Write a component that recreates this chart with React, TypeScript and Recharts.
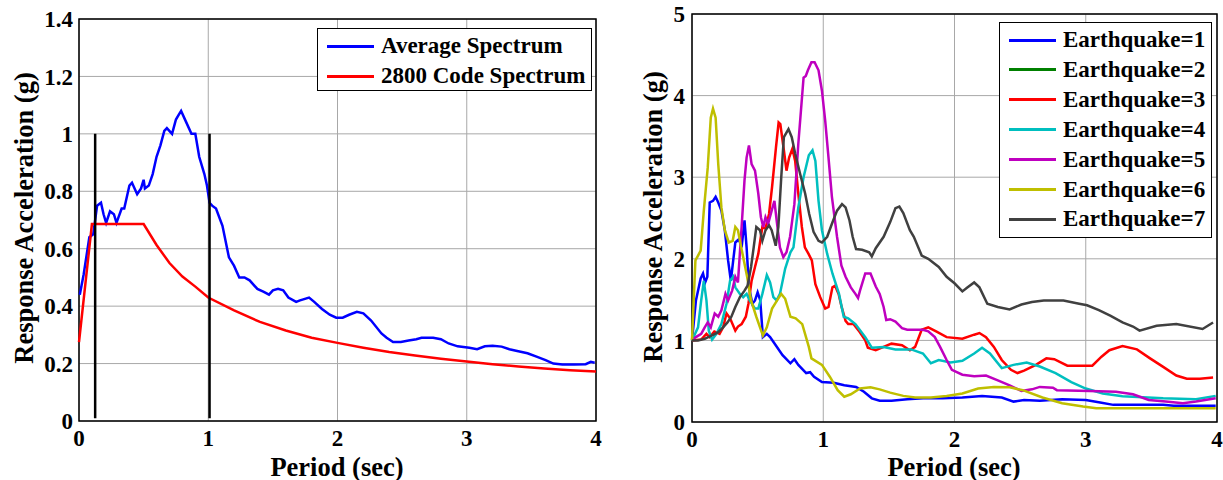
import { LineChart, Line, XAxis, YAxis, CartesianGrid, ReferenceArea, ReferenceLine } from "recharts";

const FONT = '"Liberation Serif", "Times New Roman", serif';

// ---- left panel: average vs code spectrum ----
const leftXTicks = [0, 1, 2, 3, 4];
const leftYTicks = [0, 0.2, 0.4, 0.6, 0.8, 1, 1.2, 1.4];

const averageSpectrum: [number, number][] = [
  [0.006, 0.44], [0.036, 0.51], [0.08, 0.64], [0.11, 0.65], [0.14, 0.75], [0.17, 0.76], [0.19, 0.72],
  [0.21, 0.69], [0.24, 0.73], [0.27, 0.72], [0.29, 0.69], [0.33, 0.74], [0.35, 0.74], [0.39, 0.82],
  [0.41, 0.83], [0.45, 0.79], [0.48, 0.81], [0.5, 0.84], [0.51, 0.81], [0.54, 0.82], [0.57, 0.86],
  [0.6, 0.92], [0.63, 0.96], [0.66, 1.01], [0.68, 1.02], [0.72, 1.0], [0.75, 1.05], [0.77, 1.065],
  [0.79, 1.08], [0.83, 1.04], [0.87, 1.0], [0.9, 1.0], [0.93, 0.92], [0.97, 0.86], [0.99, 0.82],
  [1.01, 0.76], [1.03, 0.75], [1.06, 0.74], [1.11, 0.68], [1.16, 0.57], [1.2, 0.54], [1.24, 0.5],
  [1.28, 0.5], [1.32, 0.49], [1.36, 0.47], [1.38, 0.46], [1.43, 0.45], [1.47, 0.44], [1.5, 0.455],
  [1.54, 0.46], [1.58, 0.455], [1.62, 0.43], [1.68, 0.415], [1.71, 0.42], [1.78, 0.43], [1.82, 0.415],
  [1.88, 0.39], [1.94, 0.37], [1.99, 0.36], [2.04, 0.36], [2.09, 0.37], [2.15, 0.38], [2.2, 0.375],
  [2.26, 0.35], [2.34, 0.305], [2.38, 0.29], [2.43, 0.275], [2.49, 0.275], [2.55, 0.28], [2.61, 0.285],
  [2.65, 0.29], [2.74, 0.29], [2.8, 0.285], [2.86, 0.27], [2.93, 0.26], [3.02, 0.255], [3.08, 0.25],
  [3.14, 0.26], [3.2, 0.262], [3.27, 0.259], [3.33, 0.25], [3.39, 0.244], [3.47, 0.236], [3.54, 0.224],
  [3.61, 0.212], [3.67, 0.2], [3.74, 0.197], [3.83, 0.197], [3.92, 0.198], [3.96, 0.206], [3.99, 0.203],
];

const codeSpectrum: [number, number][] = [
  [0, 0.275], [0.1, 0.686], [0.5, 0.686], [0.6, 0.613], [0.7, 0.55], [0.8, 0.503], [0.9, 0.468],
  [1.0, 0.43], [1.2, 0.385], [1.4, 0.345], [1.6, 0.315], [1.8, 0.29], [2.0, 0.272], [2.2, 0.255],
  [2.4, 0.24], [2.6, 0.228], [2.8, 0.217], [3.0, 0.207], [3.2, 0.198], [3.4, 0.19], [3.6, 0.183],
  [3.8, 0.177], [4.0, 0.172],
];

// the two black marker lines (period, from, to)
const markerLines: [number, number, number][] = [
  [0.125, 0.01, 1.0],
  [1.01, 0.01, 1.0],
];

// ---- right panel: individual records ----
const rightXTicks = [0, 1, 2, 3, 4];
const rightYTicks = [0, 1, 2, 3, 4, 5];

const eq1: [number, number][] = [
  [0, 1], [0.03, 1.49], [0.066, 1.76], [0.084, 1.82], [0.1, 1.71], [0.117, 1.78], [0.135, 2.69],
  [0.16, 2.71], [0.18, 2.76], [0.2, 2.69], [0.224, 2.59], [0.25, 2.35], [0.275, 1.98], [0.296, 1.73],
  [0.314, 1.98], [0.33, 2.2], [0.357, 2.24], [0.378, 2.14], [0.4, 2.47], [0.416, 2.14], [0.434, 1.65],
  [0.46, 1.45], [0.48, 1.49], [0.5, 1.59], [0.52, 1.49], [0.54, 1.04], [0.57, 1.08], [0.595, 1.04],
  [0.63, 0.96], [0.69, 0.82], [0.75, 0.72], [0.78, 0.77], [0.81, 0.7], [0.87, 0.6], [0.9, 0.61],
  [0.93, 0.555], [0.99, 0.49], [1.08, 0.48], [1.16, 0.45], [1.25, 0.43], [1.31, 0.37], [1.37, 0.29],
  [1.43, 0.26], [1.52, 0.26], [1.64, 0.28], [1.76, 0.29], [1.91, 0.29], [2.06, 0.3], [2.21, 0.32],
  [2.36, 0.3], [2.45, 0.25], [2.53, 0.27], [2.65, 0.26], [2.82, 0.28], [3.0, 0.27], [3.11, 0.24],
  [3.21, 0.21], [3.59, 0.21], [3.67, 0.2], [3.99, 0.2],
];

// record 2 is hidden under the others in the source figure
const eq2: [number, number][] = [];

const eq3: [number, number][] = [
  [0, 1], [0.07, 1.01], [0.11, 1.08], [0.135, 1.04], [0.17, 1.11], [0.21, 1.08], [0.237, 1.16],
  [0.263, 1.33], [0.29, 1.27], [0.33, 1.12], [0.35, 1.17], [0.378, 1.2], [0.41, 1.29], [0.43, 1.45],
  [0.454, 1.73], [0.48, 1.9], [0.505, 2.06], [0.536, 2.39], [0.56, 2.37], [0.587, 2.55], [0.61, 2.88],
  [0.64, 3.37], [0.66, 3.67], [0.673, 3.65], [0.7, 3.33], [0.72, 3.08], [0.74, 3.24], [0.765, 3.35],
  [0.786, 3.2], [0.81, 2.8], [0.837, 2.39], [0.86, 2.14], [0.888, 2.06], [0.913, 1.98], [0.94, 1.69],
  [0.977, 1.53], [1.015, 1.39], [1.04, 1.41], [1.07, 1.65], [1.09, 1.67], [1.117, 1.57], [1.14, 1.41],
  [1.17, 1.24], [1.19, 1.2], [1.23, 1.2], [1.27, 1.12], [1.32, 1.0], [1.34, 0.91], [1.4, 0.88],
  [1.46, 0.92], [1.52, 0.96], [1.6, 0.94], [1.66, 0.88], [1.7, 0.92], [1.75, 1.13], [1.8, 1.16],
  [1.86, 1.11], [1.94, 1.04], [2.06, 1.02], [2.15, 1.07], [2.19, 1.09], [2.24, 1.04], [2.3, 0.92],
  [2.36, 0.76], [2.43, 0.64], [2.48, 0.6], [2.53, 0.63], [2.62, 0.7], [2.7, 0.78], [2.76, 0.77],
  [2.86, 0.69], [3.05, 0.69], [3.12, 0.8], [3.18, 0.88], [3.28, 0.93], [3.39, 0.89], [3.49, 0.78],
  [3.59, 0.675], [3.69, 0.57], [3.77, 0.53], [3.87, 0.53], [3.97, 0.545],
];

const eq4: [number, number][] = [
  [0, 1], [0.046, 1.16], [0.07, 1.49], [0.09, 1.73], [0.11, 1.49], [0.128, 1.12], [0.153, 1.01],
  [0.186, 1.08], [0.224, 1.2], [0.263, 1.45], [0.29, 1.73], [0.314, 1.78], [0.33, 1.65], [0.365, 1.57],
  [0.39, 1.53], [0.416, 1.57], [0.44, 1.49], [0.48, 1.39], [0.505, 1.39], [0.536, 1.57], [0.57, 1.8],
  [0.595, 1.71], [0.62, 1.53], [0.645, 1.49], [0.67, 1.57], [0.71, 1.88], [0.75, 2.08], [0.773, 2.14],
  [0.81, 2.63], [0.85, 3.0], [0.89, 3.27], [0.918, 3.33], [0.94, 3.2], [0.964, 2.71], [0.99, 2.35],
  [1.03, 2.06], [1.07, 1.82], [1.12, 1.57], [1.156, 1.29], [1.19, 1.27], [1.245, 1.2], [1.32, 1.04],
  [1.37, 0.91], [1.46, 0.92], [1.55, 0.89], [1.67, 0.89], [1.76, 0.84], [1.82, 0.72], [1.88, 0.76],
  [1.97, 0.73], [2.06, 0.75], [2.15, 0.84], [2.21, 0.91], [2.27, 0.84], [2.36, 0.66], [2.45, 0.7],
  [2.55, 0.73], [2.65, 0.68], [2.77, 0.6], [2.89, 0.49], [3.0, 0.41], [3.13, 0.35], [3.28, 0.315],
  [3.59, 0.29], [3.84, 0.28], [3.99, 0.32],
];

const eq5: [number, number][] = [
  [0, 1], [0.03, 1.04], [0.07, 1.08], [0.097, 1.16], [0.12, 1.22], [0.143, 1.16], [0.173, 1.33],
  [0.2, 1.29], [0.224, 1.37], [0.255, 1.57], [0.275, 1.49], [0.306, 1.61], [0.33, 1.78], [0.35, 1.71],
  [0.378, 2.39], [0.4, 2.96], [0.416, 3.24], [0.434, 3.39], [0.454, 3.16], [0.48, 3.08], [0.505, 2.8],
  [0.525, 2.51], [0.543, 2.39], [0.56, 2.51], [0.58, 2.43], [0.607, 2.59], [0.628, 2.71], [0.645, 2.47],
  [0.67, 2.14], [0.696, 2.02], [0.72, 2.08], [0.747, 2.27], [0.78, 2.67], [0.81, 3.41], [0.85, 4.22],
  [0.867, 4.24], [0.883, 4.31], [0.91, 4.41], [0.934, 4.41], [0.964, 4.31], [0.99, 4.06], [1.015, 3.69],
  [1.04, 3.24], [1.066, 2.76], [1.105, 2.27], [1.138, 1.92], [1.17, 1.78], [1.21, 1.65], [1.245, 1.57],
  [1.265, 1.52], [1.28, 1.61], [1.32, 1.82], [1.36, 1.82], [1.4, 1.66], [1.43, 1.57], [1.46, 1.41],
  [1.48, 1.25], [1.51, 1.26], [1.55, 1.23], [1.6, 1.15], [1.64, 1.13], [1.76, 1.13], [1.8, 1.11],
  [1.85, 1.04], [1.89, 0.92], [1.94, 0.76], [1.98, 0.64], [2.06, 0.58], [2.15, 0.56], [2.24, 0.57],
  [2.33, 0.51], [2.42, 0.45], [2.51, 0.38], [2.59, 0.4], [2.65, 0.43], [2.75, 0.42], [2.78, 0.39],
  [3.03, 0.38], [3.23, 0.37], [3.36, 0.34], [3.48, 0.27], [3.61, 0.25], [3.74, 0.23], [3.84, 0.25],
  [3.99, 0.29],
];

const eq6: [number, number][] = [
  [0, 1], [0.026, 1.98], [0.046, 2.04], [0.066, 2.1], [0.09, 2.59], [0.12, 3.12], [0.143, 3.73],
  [0.16, 3.84], [0.18, 3.73], [0.2, 3.16], [0.224, 2.63], [0.25, 2.35], [0.28, 2.2], [0.31, 2.22],
  [0.33, 2.39], [0.35, 2.35], [0.38, 2.1], [0.42, 1.78], [0.45, 1.49], [0.49, 1.29], [0.54, 1.06],
  [0.57, 1.16], [0.61, 1.39], [0.64, 1.47], [0.68, 1.57], [0.71, 1.51], [0.75, 1.29], [0.79, 1.27],
  [0.84, 1.2], [0.89, 0.92], [0.91, 0.78], [0.99, 0.7], [1.05, 0.555], [1.11, 0.39], [1.16, 0.31],
  [1.21, 0.34], [1.28, 0.41], [1.36, 0.425], [1.43, 0.4], [1.51, 0.36], [1.61, 0.32], [1.7, 0.3],
  [1.82, 0.3], [1.94, 0.32], [2.06, 0.35], [2.18, 0.41], [2.3, 0.43], [2.42, 0.425], [2.52, 0.39],
  [2.67, 0.3], [2.82, 0.23], [2.98, 0.19], [3.08, 0.17], [3.99, 0.17],
];

const eq7: [number, number][] = [
  [0, 1], [0.046, 1.0], [0.097, 1.02], [0.148, 1.06], [0.2, 1.1], [0.237, 1.16], [0.27, 1.22],
  [0.3, 1.29], [0.33, 1.41], [0.365, 1.53], [0.4, 1.61], [0.423, 1.67], [0.45, 1.9], [0.47, 2.14],
  [0.49, 2.39], [0.518, 2.35], [0.536, 2.22], [0.56, 2.35], [0.587, 2.41], [0.607, 2.35], [0.638, 2.16],
  [0.658, 2.39], [0.68, 3.0], [0.7, 3.49], [0.735, 3.59], [0.76, 3.49], [0.786, 3.29], [0.824, 3.04],
  [0.862, 2.8], [0.893, 2.55], [0.926, 2.33], [0.964, 2.22], [0.99, 2.2], [1.03, 2.27], [1.066, 2.43],
  [1.105, 2.59], [1.143, 2.67], [1.17, 2.63], [1.2, 2.47], [1.224, 2.27], [1.25, 2.12], [1.296, 2.11],
  [1.35, 2.08], [1.37, 2.03], [1.4, 2.13], [1.46, 2.27], [1.51, 2.45], [1.55, 2.62], [1.58, 2.64],
  [1.61, 2.56], [1.66, 2.35], [1.69, 2.27], [1.75, 2.04], [1.8, 2.0], [1.88, 1.9], [1.94, 1.78],
  [2.0, 1.7], [2.06, 1.6], [2.1, 1.65], [2.15, 1.71], [2.19, 1.65], [2.25, 1.45], [2.33, 1.41],
  [2.42, 1.38], [2.51, 1.44], [2.59, 1.47], [2.68, 1.49], [2.83, 1.49], [2.95, 1.45], [3.01, 1.43],
  [3.1, 1.37], [3.19, 1.3], [3.28, 1.22], [3.36, 1.17], [3.41, 1.12], [3.54, 1.18], [3.69, 1.2],
  [3.89, 1.14], [3.97, 1.22],
];

const leftSeries = [
  { name: "Average Spectrum", color: "#0000ff", points: averageSpectrum },
  { name: "2800 Code Spectrum", color: "#ff0000", points: codeSpectrum },
];

const rightSeries = [
  { name: "Earthquake=1", color: "#0000ff", points: eq1 },
  { name: "Earthquake=2", color: "#008000", points: eq2 },
  { name: "Earthquake=3", color: "#ff0000", points: eq3 },
  { name: "Earthquake=4", color: "#00bfbf", points: eq4 },
  { name: "Earthquake=5", color: "#bf00bf", points: eq5 },
  { name: "Earthquake=6", color: "#bfbf00", points: eq6 },
  { name: "Earthquake=7", color: "#404040", points: eq7 },
];

const toRows = (pts: [number, number][]) => pts.map(([t, a]) => ({ t, a }));

const tickStyle = { fill: "#000", fontSize: 23, fontWeight: "bold", fontFamily: FONT };

const Legend = ({ items, left, top, width, height, rowGap }: {
  items: { name: string; color: string }[];
  left: number; top: number; width: number; height: number; rowGap: number;
}) => (
  <div style={{
    position: "absolute", left, top, width, height, boxSizing: "border-box",
    border: "1.5px solid #000", background: "#fff",
  }}>
    {items.map((it, i) => (
      <div key={it.name} style={{
        position: "absolute", left: 9, top: 17 + i * rowGap - 15, height: 30,
        display: "flex", alignItems: "center", whiteSpace: "nowrap",
      }}>
        <div style={{ width: 47, height: 3, background: it.color, marginRight: 7 }} />
        <span style={{ fontFamily: FONT, fontWeight: "bold", fontSize: 23, color: "#000" }}>{it.name}</span>
      </div>
    ))}
  </div>
);

const AxisTitle = ({ text, x, y, vertical }: { text: string; x: number; y: number; vertical?: boolean }) => (
  <div style={{
    position: "absolute", left: x, top: y, whiteSpace: "nowrap", lineHeight: 1,
    transform: `translate(-50%, -50%)${vertical ? " rotate(-90deg)" : ""}`,
    fontFamily: FONT, fontWeight: "bold", fontSize: 26.5, color: "#000",
  }}>{text}</div>
);

export default function App() {
  return (
    <div style={{ position: "absolute", left: 0, top: 0, width: 1223, height: 480, background: "#fff" }}>
      <div style={{ position: "absolute", left: 0, top: 0 }}>
        <LineChart width={610} height={480} margin={{ top: 19, right: 14, bottom: 29, left: 0 }}>
          <CartesianGrid stroke="#a8a8a8" strokeWidth={1} />
          <XAxis type="number" dataKey="t" domain={[0, 4]} ticks={leftXTicks} interval={0}
            axisLine={false} tickLine={false} tickSize={0} tickMargin={9} height={30} tick={tickStyle} />
          <YAxis type="number" dataKey="a" domain={[0, 1.4]} ticks={leftYTicks} interval={0}
            axisLine={false} tickLine={false} tickSize={0} tickMargin={6} width={79} tick={tickStyle} />
          {leftSeries.map((s) => (
            <Line key={s.name} data={toRows(s.points)} dataKey="a" type="linear" stroke={s.color}
              strokeWidth={2.5} dot={false} isAnimationActive={false} />
          ))}
          {markerLines.map(([t, y1, y2]) => (
            <ReferenceLine key={t} segment={[{ x: t, y: y1 }, { x: t, y: y2 }]} stroke="#000" strokeWidth={2.5} />
          ))}
          <ReferenceArea x1={0} x2={4} y1={0} y2={1.4} fill="none" stroke="#000" strokeWidth={1.5} />
        </LineChart>
      </div>
      <div style={{ position: "absolute", left: 610, top: 0 }}>
        <LineChart width={613} height={480} margin={{ top: 14, right: 6, bottom: 28, left: 0 }}>
          <CartesianGrid stroke="#a8a8a8" strokeWidth={1} />
          <XAxis type="number" dataKey="t" domain={[0, 4]} ticks={rightXTicks} interval={0}
            axisLine={false} tickLine={false} tickSize={0} tickMargin={9} height={30} tick={tickStyle} />
          <YAxis type="number" dataKey="a" domain={[0, 5]} ticks={rightYTicks} interval={0}
            axisLine={false} tickLine={false} tickSize={0} tickMargin={7} width={82} tick={tickStyle} />
          {rightSeries.filter((s) => s.points.length > 0).map((s) => (
            <Line key={s.name} data={toRows(s.points)} dataKey="a" type="linear" stroke={s.color}
              strokeWidth={2.5} dot={false} isAnimationActive={false} />
          ))}
          <ReferenceArea x1={0} x2={4} y1={0} y2={5} fill="none" stroke="#000" strokeWidth={1.5} />
        </LineChart>
      </div>

      <AxisTitle text="Response Acceleration (g)" x={24} y={218} vertical />
      <AxisTitle text="Period (sec)" x={337} y={467} />
      <AxisTitle text="Response Acceleration (g)" x={653} y={217} vertical />
      <AxisTitle text="Period (sec)" x={954} y={467} />

      <Legend items={leftSeries} left={317} top={28} width={275} height={63} rowGap={30} />
      <Legend items={rightSeries} left={999} top={22} width={213} height={216} rowGap={29.9} />
    </div>
  );
}
